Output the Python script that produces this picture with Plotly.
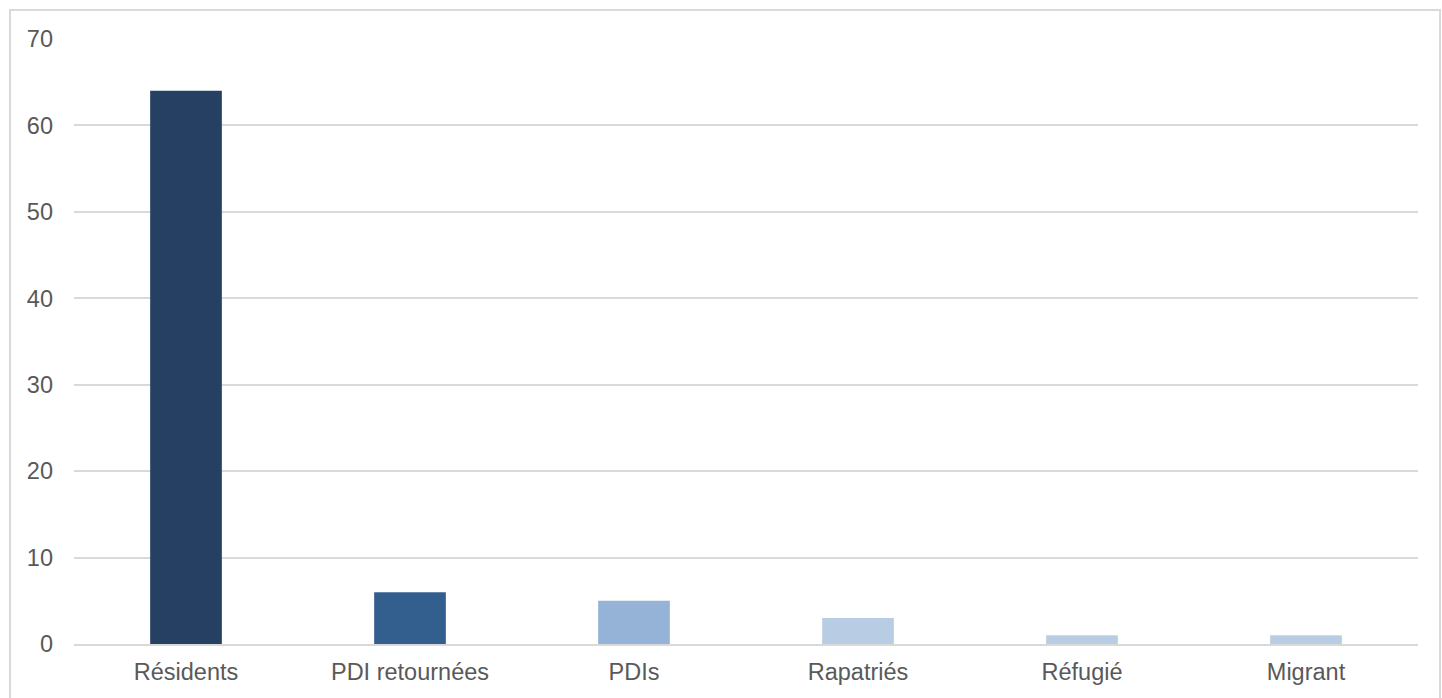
import plotly.graph_objects as go

categories = ["Résidents", "PDI retournées", "PDIs", "Rapatriés", "Réfugié", "Migrant"]
values = [64, 6, 5, 3, 1, 1]
colors = ["#264064", "#335F8F", "#95B3D7", "#B8CCE4", "#B8CCE4", "#B8CCE4"]
y_ticks = [0, 10, 20, 30, 40, 50, 60, 70]

fig = go.Figure(go.Bar(x=categories, y=values, marker=dict(color=colors, line=dict(width=0)),
                       width=0.32, hoverinfo="x+y"))

fig.update_layout(
    width=1442, height=698,
    margin=dict(l=74, r=24, t=39, b=54),
    paper_bgcolor="white", plot_bgcolor="white",
    font=dict(family="Liberation Sans, Arial, sans-serif", size=23.5, color="#595959"),
    showlegend=False,
    xaxis=dict(showgrid=False, showline=True, linecolor="#D9D9D9", linewidth=1.5,
               ticks="", ticklabelstandoff=6, tickfont=dict(size=23.5, color="#595959")),
    yaxis=dict(range=[0, 70], tickvals=y_ticks, showgrid=True, gridcolor="#D9D9D9", gridwidth=1.5,
               zeroline=False, showline=False, ticks="", ticklabelstandoff=20,
               tickfont=dict(size=23.5, color="#595959")),
    shapes=[dict(type="rect", xref="paper", yref="paper", x0=-0.0476, x1=1.0164, y0=-0.092, y1=1.048,
                 line=dict(color="#D9D9D9", width=2), fillcolor="rgba(0,0,0,0)", layer="below")],
)

fig.write_html("out.html")
